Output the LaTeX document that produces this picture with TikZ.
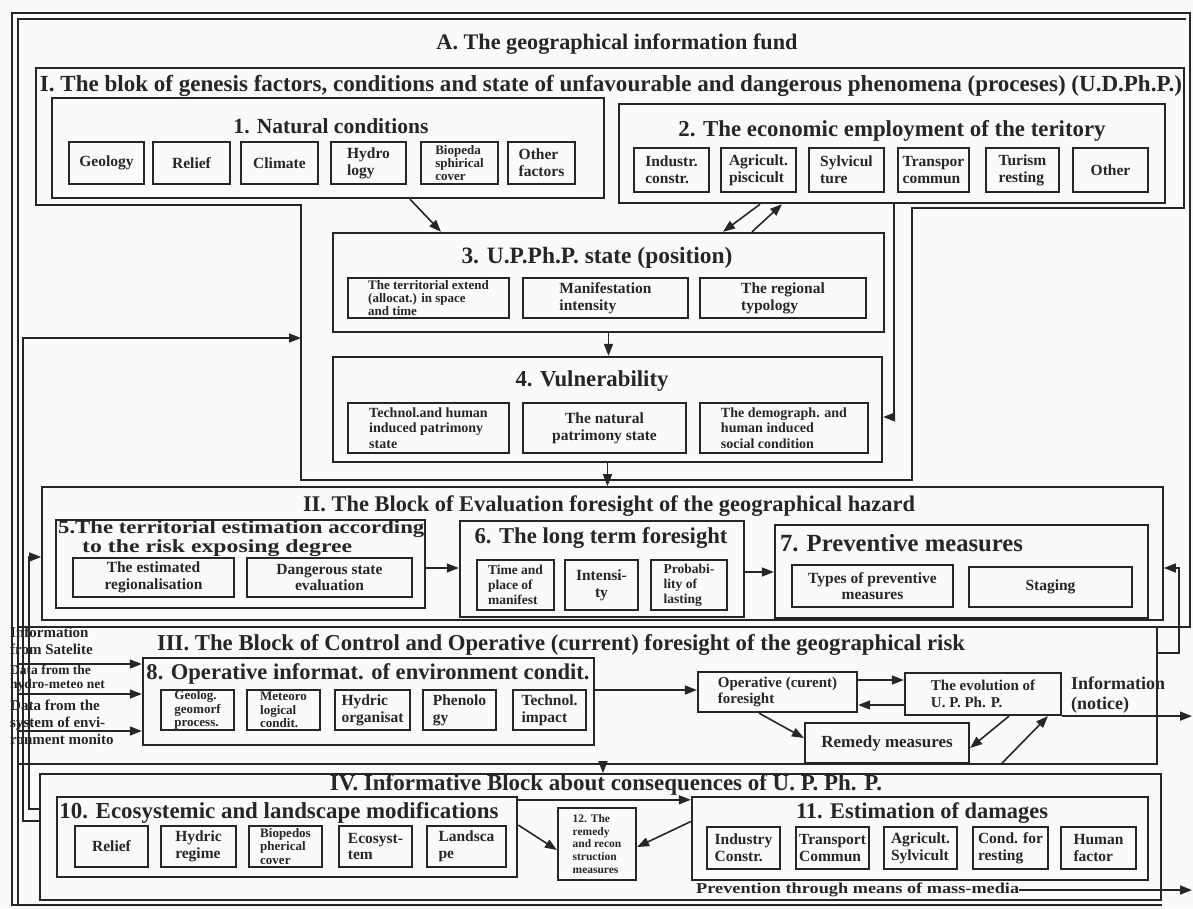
\documentclass[tikz,border=0pt]{standalone}
\usepackage{fontspec}
\setmainfont{Liberation Serif}
\usetikzlibrary{arrows.meta,calc}
\definecolor{ink}{RGB}{38,38,38}
\definecolor{paper}{RGB}{250,250,249}
\newcommand{\fw}[2]{\resizebox{#1pt}{!}{#2}}
\newcommand{\fwh}[3]{\resizebox*{#1pt}{#2pt}{#3}}
\newcommand{\bx}[7][]{\node[#1,minimum width={(#5-#3)*1pt},minimum height={(#6-#4)*1pt}] (#2) at ({(#3+#5)/2},{(#4+#6)/2}) {#7};}
\tikzset{
  box/.style={draw=ink,line width=2.4pt,inner sep=0pt},
  blk/.style={draw=ink,line width=1.6pt,inner sep=0pt},
  sb/.style={draw=ink,line width=2.2pt,inner sep=1pt,align=left,text=ink,font=\bfseries\fontsize{15.5}{16.7}\selectfont},
  sbt/.style={sb,font=\bfseries\fontsize{13}{13.3}\selectfont},
  ttl/.style={text=ink,inner sep=0pt,font=\bfseries\fontsize{22}{24}\selectfont},
  txt/.style={text=ink,inner sep=0pt,align=left,font=\bfseries\fontsize{15}{17}\selectfont},
  arr/.style={draw=ink,line width=1.6pt,-{Triangle[length=12pt,width=9pt]}},
  frame/.style={draw=ink,line width=1.8pt},
}
\begin{document}
\begin{tikzpicture}[x=1pt,y=-1pt]
\useasboundingbox (0,0) rectangle (1193,908);
\fill[paper] (0,0) rectangle (1193,908);

% outer frame (A)
\draw[frame] (1157,627) -- (1190,627) -- (1190,13) -- (12,13) -- (12,905) -- (1162,905);
\draw[frame] (18,905) -- (18,19) -- (1186,19);
\node[ttl] (tA) at (617,44) {\fw{361}{A. The geographical information fund}};

% Block I
\draw[blk] (36,68) -- (1184,68) -- (1184,208) -- (912,208) -- (912,480) -- (301,480) -- (301,205) -- (36,205) -- cycle;
\node[ttl] (tI) at (611,86) {\fw{1142}{I. The blok of genesis factors, conditions and state of unfavourable and dangerous phenomena (proceses) (U.D.Ph.P.)}};
\coordinate (Ileft) at (301,338);

% 1
\bx[box]{b1}{52}{98}{604}{198}{}
\node[ttl] (t1) at (331,126) {\fw{195}{1. Natural conditions}};
\bx[sb]{g1}{69}{142}{144}{184}{Geology}
\bx[sb]{g2}{153}{142}{230}{184}{Relief}
\bx[sb]{g3}{241}{142}{318}{184}{Climate}
\bx[sb]{g4}{331}{142}{406}{184}{Hydro\\logy}
\bx[sbt]{g5}{421}{142}{498}{184}{Biopeda\\sphirical\\cover}
\bx[sb]{g6}{508}{142}{575}{184}{Other\\factors}

% 2
\bx[box]{b2}{619}{104}{1165}{203}{}
\node[ttl] (t2) at (892,131) {\fw{427}{2. The economic employment of the teritory}};
\bx[sb]{e1}{634}{148}{709}{192}{Industr.\\constr.}
\bx[sb]{e2}{721}{148}{796}{192}{Agricult.\\piscicult}
\bx[sb]{e3}{809}{148}{884}{192}{Sylvicul\\ture}
\bx[sb]{e4}{898}{148}{969}{192}{Transpor\\commun}
\bx[sb]{e5}{986}{148}{1059}{192}{Turism\\resting}
\bx[sb]{e6}{1073}{148}{1148}{192}{Other}

% 3
\bx[box]{b3}{333}{233}{884}{332}{}
\node[ttl] (t3) at (597,258) {\fw{271}{3. U.P.Ph.P. state (position)}};
\bx[sbt]{p1}{348}{278}{509}{318}{The territorial extend\\(allocat.) in space\\and time}
\bx[sb]{p2}{523}{278}{688}{318}{Manifestation\\intensity}
\bx[sb]{p3}{700}{278}{866}{318}{The regional\\typology}

% 4
\bx[box]{b4}{333}{357}{882}{462}{}
\node[ttl] (t4) at (592,381) {\fw{153}{4. Vulnerability}};
\bx[sbt,font=\bfseries\fontsize{14}{15.5}\selectfont]{v1}{348}{403}{509}{453}{Technol.and human\\induced patrimony\\state}
\bx[sb,align=center]{v2}{523}{403}{686}{453}{The natural\\patrimony state}
\bx[sbt,font=\bfseries\fontsize{14}{15.5}\selectfont]{v3}{700}{403}{868}{453}{The demograph. and\\human induced\\social condition}

% Block II
\bx[blk]{bII}{42}{487}{1163}{620}{}
\node[ttl] (tII) at (609,506) {\fw{612}{II. The Block of Evaluation foresight of the geographical hazard}};
\bx[box]{b5}{56}{520}{425}{608}{}
\node[ttl,anchor=west] (t5a) at (58,529.5) {\fwh{366}{17}{5.The territorial estimation according}};
\node[ttl,anchor=west] (t5b) at (82,548) {\fwh{270}{17}{to the risk exposing degree}};
\bx[sb,align=center]{r1}{73}{558}{234}{597}{The estimated\\regionalisation}
\bx[sb,align=center]{r2}{247}{558}{412}{597}{Dangerous state\\evaluation}
\bx[box]{b6}{460}{521}{744}{617}{}
\node[ttl] (t6) at (601,538) {\fw{253}{6. The long term foresight}};
\bx[sbt,font=\bfseries\fontsize{13.5}{15}\selectfont]{f1}{477}{560}{554}{610}{Time and\\place of\\manifest}
\bx[sb,align=center]{f2}{565}{560}{638}{610}{Intensi-\\ty}
\bx[sbt,font=\bfseries\fontsize{13.5}{15}\selectfont]{f3}{651}{560}{727}{610}{Probabi-\\lity of\\lasting}
\bx[box]{b7}{775}{525}{1148}{618}{}
\node[ttl] (t7) at (901.5,543) {\fw{243}{7. Preventive measures}};
\bx[sb,align=center]{m1}{792}{565}{953}{607}{Types of preventive\\measures}
\bx[sb]{m2}{969}{567}{1132}{607}{Staging}

% Block III
\bx[blk]{bIII}{18}{627}{1157}{764}{}
\node[ttl] (tIII) at (561,645) {\fw{808}{III. The Block of Control and Operative (current) foresight of the geographical risk}};
\node[txt,anchor=west] (s1t) at (10,641) {Information\\from Satelite};
\node[txt,anchor=west,font=\bfseries\fontsize{13.5}{14.5}\selectfont] (s2t) at (10,678) {Data from the\\hydro-meteo net};
\node[txt,anchor=west] (s3t) at (10,722) {Data from the\\system of envi-\\ronment monito};
\bx[box]{b8}{143}{658}{594}{745}{}
\node[ttl] (t8) at (368,674) {\fw{443}{8. Operative informat. of environment condit.}};
\bx[sbt]{o1}{161}{690}{234}{730}{Geolog.\\geomorf\\process.}
\bx[sbt]{o2}{247}{690}{320}{730}{Meteoro\\logical\\condit.}
\bx[sb]{o3}{335}{690}{410}{730}{Hydric\\organisat}
\bx[sb]{o4}{423}{690}{496}{730}{Phenolo\\gy}
\bx[sb]{o5}{513}{690}{586}{730}{Technol.\\impact}
\bx[sb,font=\bfseries\fontsize{15}{16.8}\selectfont]{opf}{698}{672}{857}{712}{Operative (curent)\\foresight}
\bx[sb,font=\bfseries\fontsize{15}{16.8}\selectfont]{evol}{905}{673}{1061}{715}{The evolution of\\U. P. Ph. P.}
\bx[sb,font=\bfseries\fontsize{17}{19}\selectfont]{rem}{805}{723}{969}{763}{Remedy measures}
\node[txt,anchor=west,font=\bfseries\fontsize{18}{20}\selectfont] (notice) at (1071,695) {Information\\(notice)};

% Block IV
\bx[blk]{bIV}{40}{774}{1161}{900}{}
\node[ttl] (tIV) at (606,785) {\fw{552}{IV. Informative Block about consequences of U. P. Ph. P.}};
\bx[box]{b10}{57}{797}{517}{877}{}
\node[ttl] (t10) at (279,813) {\fw{439}{10. Ecosystemic and landscape modifications}};
\bx[sb]{q1}{75}{826}{148}{867}{Relief}
\bx[sb]{q2}{161}{826}{236}{867}{Hydric\\regime}
\bx[sbt]{q3}{249}{826}{322}{867}{Biopedos\\pherical\\cover}
\bx[sb]{q4}{339}{826}{412}{867}{Ecosyst-\\tem}
\bx[sb]{q5}{427}{826}{506}{867}{Landsca\\pe}
\bx[sb,font=\bfseries\fontsize{11.5}{12.8}\selectfont]{b12}{558}{808}{636}{880}{12. The\\remedy\\and recon\\struction\\measures}
\bx[box]{b11}{692}{797}{1148}{880}{}
\node[ttl] (t11) at (922,813) {\fw{252}{11. Estimation of damages}};
\bx[sb]{d1}{707}{827}{780}{869}{Industry\\Constr.}
\bx[sb]{d2}{796}{827}{869}{869}{Transport\\Commun}
\bx[sb]{d3}{884}{827}{957}{869}{Agricult.\\Sylvicult}
\bx[sb]{d4}{973}{827}{1048}{869}{Cond. for\\resting}
\bx[sb]{d5}{1061}{827}{1136}{869}{Human\\factor}
\node[ttl,anchor=west] (prev) at (696,890) {\fwh{323}{14}{Prevention through means of mass-media}};

% connectors
\coordinate (pend) at (1192,891);
\coordinate (nend) at (1192,717);
\draw[arr] ([xshift=82pt]b1.south) -- ([xshift=-167.5pt]b3.north);
\draw[arr] ([xshift=-132pt]b2.south) -- ([xshift=114.5pt]b3.north);
\draw[arr] ([xshift=143.5pt]b3.north) -- ([xshift=-110pt]b2.south);
\draw[arr] ([xshift=2pt]b2.south) |- ([yshift=-7.5pt]b4.east);
\draw[arr] (b3.south) -- (b3.south |- b4.north);
\draw[arr] (b4.south) -- (b4.south |- bII.north);
\draw[arr] ([yshift=16pt]bIV.west) -- ++(-16,0) |- (Ileft);
\draw[arr] ([yshift=28pt]bIV.west) -- ++(-10,0) |- ([yshift=-3.5pt]bII.west);
\coordinate (c9) at ([yshift=-4pt]b5.east);
\draw[arr] (c9) -- (c9 -| b6.west);
\coordinate (c10) at ([yshift=-3pt]b6.east);
\draw[arr] (c10) -- (c10 -| b7.west);
\draw[arr] ([yshift=42.5pt]bIII.east) -- ++(21,0) |- ([yshift=-14.5pt]bII.east);
\coordinate (a1) at (18,664);
\coordinate (a2) at (18,694);
\coordinate (a3) at (18,731);
\draw[arr] (a1) -- (a1 -| b8.west);
\draw[arr] (a2) -- (a2 -| b8.west);
\draw[arr] (a3) -- (a3 -| b8.west);
\coordinate (c15) at ([yshift=2pt]opf.west);
\draw[arr] (b8.east |- c15) -- (c15);
\coordinate (c16) at ([yshift=12pt]opf.east);
\draw[arr] (c16) -- (c16 -| evol.west);
\coordinate (c17) at ([yshift=-11pt]evol.west);
\draw[arr] (c17) -- (c17 -| opf.east);
\draw[arr] ([xshift=-18.5pt]opf.south) -- ([yshift=5pt]rem.west);
\draw[arr] ([xshift=26pt]evol.south) -- ([yshift=-5pt]rem.east);
\draw[arr] (rem.south east) -- ++(31,0) -- ([xshift=65pt]evol.south);
\draw[arr] (evol.south east) -- (evol.south east -| nend);
\draw[arr] ([xshift=15.5pt]bIII.south) -- ([xshift=15.5pt]bIII.south |- bIV.north);
\coordinate (c23) at ([yshift=-4pt]b10.north east);
\draw[arr] (c23) -- (c23 -| b11.west);
\draw[arr] ([yshift=12pt]b10.east) -- ([yshift=-6pt]b12.west);
\draw[arr] ([yshift=17pt]b11.west) -- ([yshift=-3pt]b12.east);
\draw[arr] (prev.east) -- (prev.east -| pend);
\end{tikzpicture}
\end{document}
